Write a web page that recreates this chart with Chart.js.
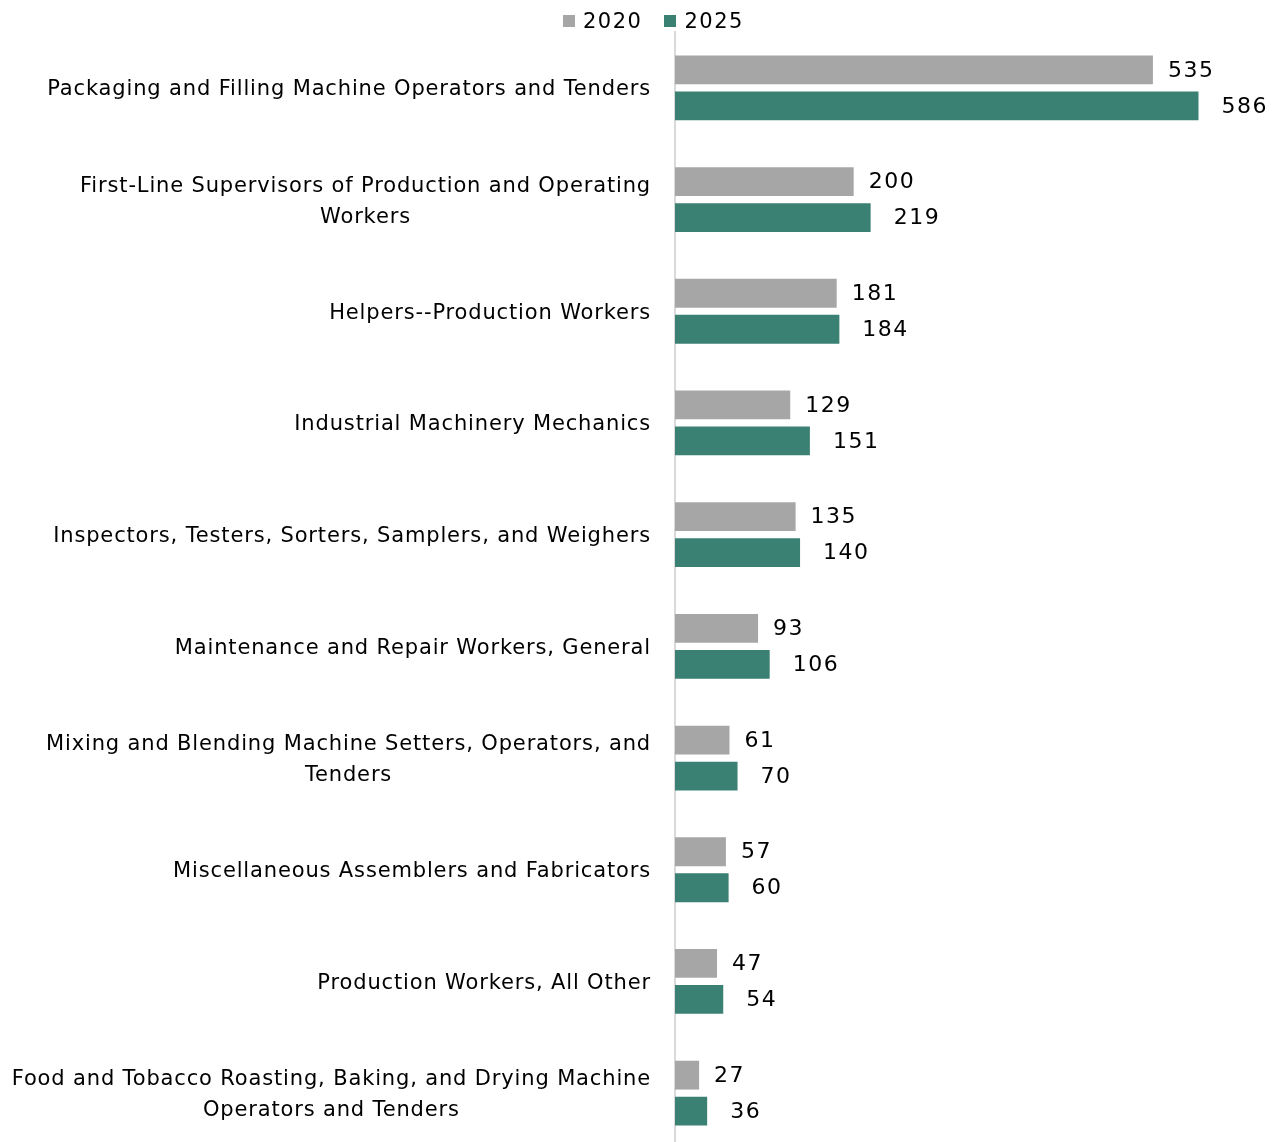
<!DOCTYPE html>
<html>
<head>
<meta charset="utf-8">
<script src="https://cdn.jsdelivr.net/npm/chart.js@4"></script>
<style>
  html, body { margin: 0; padding: 0; background: #fff; overflow: hidden; }
  #wrap { position: relative; width: 1279px; height: 1142px; overflow: hidden; }
  #legend { position: absolute; top: 9px; left: 563px; font: 21px "DejaVu Sans", sans-serif; letter-spacing: 1.5px; color: #000; display: flex; align-items: center; }
  #legend span.box { display: inline-block; width: 12px; height: 12px; margin-right: 8px; }
  #legend span.item { display: flex; align-items: center; margin-right: 22px; }
</style>
</head>
<body>
<div id="wrap">
  <canvas id="chart" width="1279" height="1149"></canvas>
  <div id="legend"></div>
</div>
<script>
const categories = [
  'Packaging and Filling Machine Operators and Tenders',
  ['First-Line Supervisors of Production and Operating', 'Workers'],
  'Helpers--Production Workers',
  'Industrial Machinery Mechanics',
  'Inspectors, Testers, Sorters, Samplers, and Weighers',
  'Maintenance and Repair Workers, General',
  ['Mixing and Blending Machine Setters, Operators, and', 'Tenders'],
  'Miscellaneous Assemblers and Fabricators',
  'Production Workers, All Other',
  ['Food and Tobacco Roasting, Baking, and Drying Machine', 'Operators and Tenders']
];
const series2020 = [535, 200, 181, 129, 135, 93, 61, 57, 47, 27];
const series2025 = [586, 219, 184, 151, 140, 106, 70, 60, 54, 36];
const seriesNames = ['2020', '2025'];
const colors = ['#a6a6a6', '#3b8173'];

const FONT = '"DejaVu Sans", sans-serif';

// legend as html
const legendEl = document.getElementById('legend');
seriesNames.forEach((name, i) => {
  const item = document.createElement('span');
  item.className = 'item';
  item.innerHTML = `<span class="box" style="background:${colors[i]}"></span>${name}`;
  legendEl.appendChild(item);
});

// category labels: lines centered to each other, block right-aligned
const categoryLabels = {
  id: 'categoryLabels',
  afterDraw(chart) {
    const { ctx } = chart;
    const yScale = chart.scales.y;
    ctx.save();
    ctx.font = '21px ' + FONT;
    ctx.letterSpacing = '0.85px';
    ctx.fillStyle = '#000';
    ctx.textAlign = 'center';
    ctx.textBaseline = 'middle';
    const rightEdge = 651;
    const lineH = 31;
    categories.forEach((lbl, i) => {
      const lines = Array.isArray(lbl) ? lbl : [lbl];
      const y = yScale.getPixelForTick(i) + 2;
      const maxW = Math.max(...lines.map(l => ctx.measureText(l).width));
      const cx = rightEdge - maxW / 2;
      lines.forEach((l, j) => {
        ctx.fillText(l, cx, y + (j - (lines.length - 1) / 2) * lineH);
      });
    });
    ctx.restore();
  }
};

// value labels to the right of bars
const valueLabels = {
  id: 'valueLabels',
  afterDatasetsDraw(chart) {
    const { ctx } = chart;
    ctx.save();
    ctx.font = '22px ' + FONT;
    ctx.letterSpacing = '1.5px';
    ctx.fillStyle = '#000';
    ctx.textAlign = 'left';
    ctx.textBaseline = 'middle';
    const offsets = [15, 23];
    chart.data.datasets.forEach((ds, di) => {
      const meta = chart.getDatasetMeta(di);
      meta.data.forEach((bar, i) => {
        ctx.fillText(String(ds.data[i]), bar.x + offsets[di], bar.y + 1);
      });
    });
    ctx.restore();
  }
};

new Chart(document.getElementById('chart'), {
  type: 'bar',
  data: {
    labels: categories,
    datasets: [
      { label: seriesNames[0], data: series2020, backgroundColor: colors[0] },
      { label: seriesNames[1], data: series2025, backgroundColor: colors[1] }
    ]
  },
  options: {
    indexAxis: 'y',
    responsive: false,
    animation: false,
    devicePixelRatio: 1,
    categoryPercentage: 0.645,
    barPercentage: 0.8,
    layout: { padding: { top: 32, right: 68, left: 0, bottom: 0 } },
    plugins: {
      legend: { display: false },
      tooltip: { enabled: false }
    },
    scales: {
      x: {
        display: false,
        min: 0,
        max: 600
      },
      y: {
        grid: { display: false },
        border: { display: true, color: '#d9d9d9', width: 2 },
        ticks: { display: false },
        afterFit(scale) { scale.width = 675; }
      }
    }
  },
  plugins: [categoryLabels, valueLabels]
});
</script>
</body>
</html>
